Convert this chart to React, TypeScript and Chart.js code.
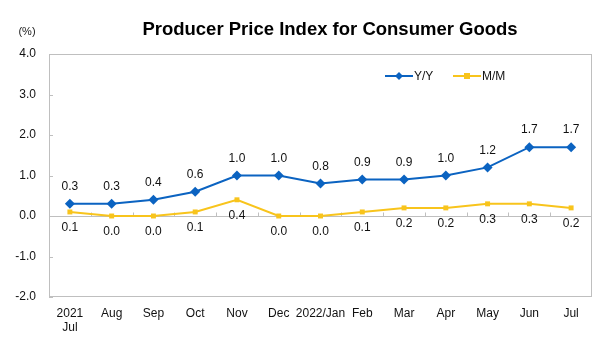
import React, { useEffect, useRef } from 'react';
import { Chart, registerables } from 'chart.js';
Chart.register(...registerables);

const categories: (string | string[])[] = [['2021', 'Jul'], 'Aug', 'Sep', 'Oct', 'Nov', 'Dec', '2022/Jan', 'Feb', 'Mar', 'Apr', 'May', 'Jun', 'Jul'];
const yoyValues = [0.3, 0.3, 0.4, 0.6, 1.0, 1.0, 0.8, 0.9, 0.9, 1.0, 1.2, 1.7, 1.7];
const momValues = [0.1, 0.0, 0.0, 0.1, 0.4, 0.0, 0.0, 0.1, 0.2, 0.2, 0.3, 0.3, 0.2];
const yMin = -2;
const yMax = 4;
const yStep = 1;
const titleText = 'Producer Price Index for Consumer Goods';
const unitText = '(%)';
const seriesNames = ['Y/Y', 'M/M'];

const FONT = '"Liberation Sans", Arial, sans-serif';
const BLUE = '#0B63C1';
const YELLOW = '#F8C41C';
const GRAY = '#BFBFBF';

const framePlugin = {
  id: 'frame',
  beforeDatasetsDraw(chart: any) {
    const { ctx, chartArea: a, scales } = chart;
    ctx.save();
    ctx.strokeStyle = GRAY;
    ctx.lineWidth = 1;
    ctx.strokeRect(Math.round(a.left) + 0.5, Math.round(a.top) + 0.5, Math.round(a.right - a.left) - 1, Math.round(a.bottom - a.top) - 1);
    const y0 = Math.round(scales.y.getPixelForValue(0)) + 0.5;
    ctx.beginPath();
    ctx.moveTo(a.left, y0);
    ctx.lineTo(a.right, y0);
    for (let v = yMin; v <= yMax; v += yStep) {
      const py = Math.round(scales.y.getPixelForValue(v)) + 0.5;
      ctx.moveTo(a.left, py);
      ctx.lineTo(a.left + 4, py);
    }
    const n = categories.length;
    const w = (a.right - a.left) / n;
    for (let i = 1; i < n; i++) {
      const px = Math.round(a.left + i * w) + 0.5;
      ctx.moveTo(px, y0);
      ctx.lineTo(px, y0 - 4);
    }
    ctx.stroke();
    ctx.restore();
  },
  afterDraw(chart: any) {
    const { ctx } = chart;
    ctx.save();
    ctx.fillStyle = '#000';
    ctx.font = `bold 18.5px ${FONT}`;
    ctx.textAlign = 'center';
    ctx.textBaseline = 'middle';
    ctx.fillText(titleText, 330, 30);
    ctx.font = `11px ${FONT}`;
    ctx.fillStyle = '#222';
    ctx.fillText(unitText, 27, 32);
    const items = [
      { x: 385, color: BLUE, label: seriesNames[0], shape: 'diamond' },
      { x: 453, color: YELLOW, label: seriesNames[1], shape: 'square' },
    ];
    const ly = 76;
    for (const it of items) {
      ctx.strokeStyle = it.color;
      ctx.lineWidth = 2;
      ctx.beginPath();
      ctx.moveTo(it.x, ly);
      ctx.lineTo(it.x + 28, ly);
      ctx.stroke();
      ctx.fillStyle = it.color;
      const cx = it.x + 14;
      if (it.shape === 'diamond') {
        ctx.beginPath();
        ctx.moveTo(cx, ly - 4);
        ctx.lineTo(cx + 4, ly);
        ctx.lineTo(cx, ly + 4);
        ctx.lineTo(cx - 4, ly);
        ctx.closePath();
        ctx.fill();
      } else {
        ctx.fillRect(cx - 3, ly - 3, 6, 6);
      }
      ctx.fillStyle = '#111';
      ctx.font = `12px ${FONT}`;
      ctx.textAlign = 'left';
      ctx.fillText(it.label, it.x + 29, ly + 1);
    }
    ctx.restore();
  },
};

const labelPlugin = {
  id: 'valueLabels',
  afterDatasetsDraw(chart: any) {
    const { ctx } = chart;
    ctx.save();
    ctx.font = `12px ${FONT}`;
    ctx.fillStyle = '#111';
    ctx.textAlign = 'center';
    ctx.textBaseline = 'middle';
    chart.data.datasets.forEach((ds: any, di: number) => {
      const meta = chart.getDatasetMeta(di);
      meta.data.forEach((pt: any, i: number) => {
        const v = ds.data[i] as number;
        const off = di === 0 ? -17 : 16;
        ctx.fillText(v.toFixed(1), pt.x, pt.y + off);
      });
    });
    ctx.restore();
  },
};

export default function App() {
  const ref = useRef<HTMLCanvasElement | null>(null);
  useEffect(() => {
    if (!ref.current) return;
    const chart = new Chart(ref.current, {
      type: 'line',
      data: {
        labels: categories as any,
        datasets: [
          {
            label: seriesNames[0],
            data: yoyValues,
            borderColor: BLUE,
            backgroundColor: BLUE,
            borderWidth: 2,
            pointStyle: 'rectRot',
            pointRadius: 5,
            pointBorderWidth: 0,
            tension: 0,
          },
          {
            label: seriesNames[1],
            data: momValues,
            borderColor: YELLOW,
            backgroundColor: YELLOW,
            borderWidth: 2,
            pointStyle: 'rect',
            pointRadius: 3.5,
            pointBorderWidth: 0,
            tension: 0,
          },
        ],
      },
      options: {
        animation: false,
        responsive: false,
        maintainAspectRatio: false,
        layout: { padding: { left: 0, top: 54, right: 16, bottom: 0 } },
        plugins: { legend: { display: false }, title: { display: false }, tooltip: { enabled: false } },
        scales: {
          x: {
            offset: true,
            grid: { display: false, drawTicks: false },
            border: { display: false },
            ticks: { color: '#111', font: { family: FONT, size: 12 }, padding: 9, maxRotation: 0, autoSkip: false },
            afterFit(s: any) { s.height = 57; },
          },
          y: {
            min: yMin,
            max: yMax,
            grid: { display: false, drawTicks: false },
            border: { display: false },
            ticks: {
              stepSize: yStep,
              color: '#111',
              font: { family: FONT, size: 12 },
              padding: 13,
              callback: (v: any) => Number(v).toFixed(1),
            },
            afterFit(s: any) { s.width = 49; },
          },
        },
      },
      plugins: [framePlugin, labelPlugin],
    });
    return () => chart.destroy();
  }, []);
  return (
    <div style={{ position: 'fixed', left: 0, top: 0, width: 608, height: 354, background: '#fff' }}>
      <canvas ref={ref} width={608} height={354} style={{ width: 608, height: 354 }} />
    </div>
  );
}
